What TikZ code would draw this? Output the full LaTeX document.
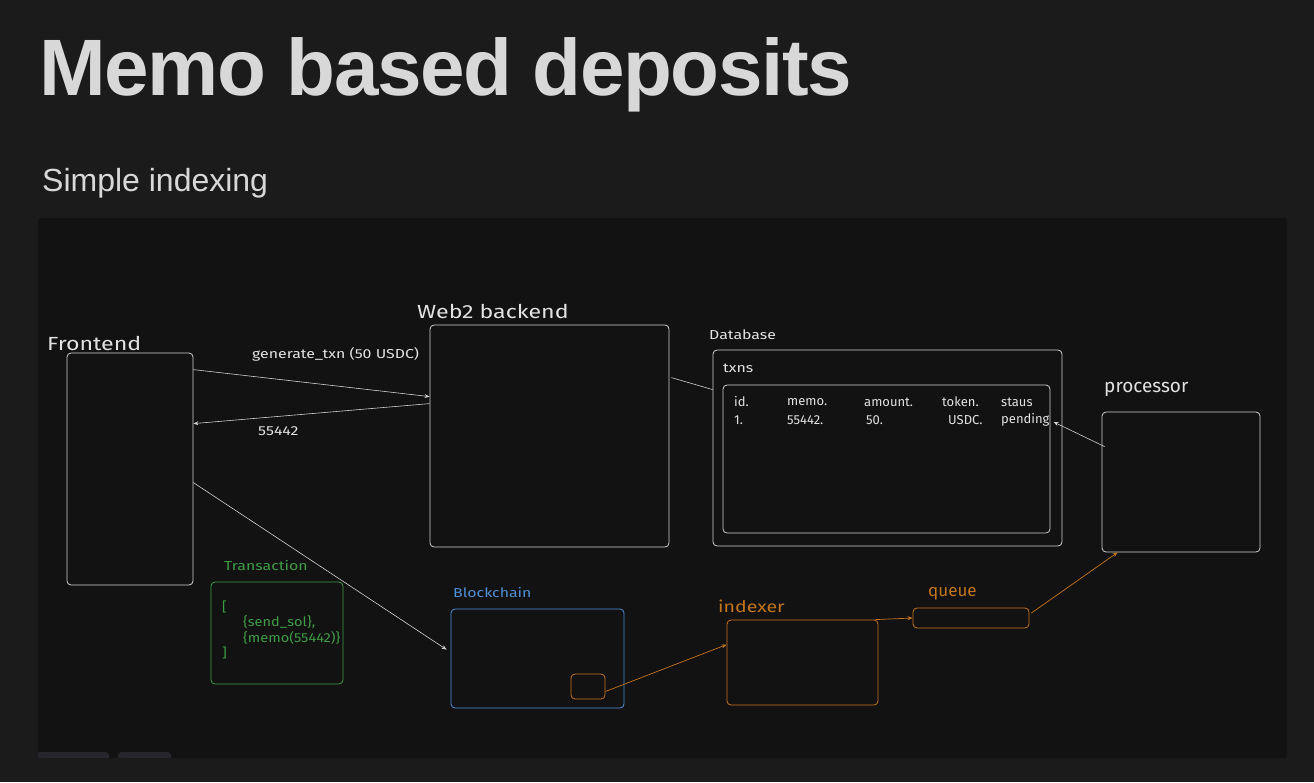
\documentclass[tikz,border=0pt]{standalone}
\usepackage{fontspec}
\setmainfont{Liberation Sans}
\newfontfamily\hand{Fira Sans}
\newfontfamily\handw[FakeStretch=1.22]{Fira Sans}
\newfontfamily\handm[FakeStretch=1.12]{Fira Sans}
\usetikzlibrary{arrows.meta}
\definecolor{pagebg}{HTML}{1B1B1B}
\definecolor{panelbg}{HTML}{121212}
\definecolor{tabbg}{HTML}{26262C}
\definecolor{wline}{HTML}{D0D0D0}
\definecolor{wtext}{HTML}{E2E2E2}
\definecolor{titlec}{HTML}{D8D8D8}
\definecolor{gline}{HTML}{3E9C45}
\definecolor{bline}{HTML}{4F8FD4}
\definecolor{oline}{HTML}{C2751B}
\tikzset{
  box/.style={draw=wline, line width=0.8pt, rounded corners=4pt, inner sep=0pt},
  gbox/.style={box, draw=gline},
  bbox/.style={box, draw=bline},
  obox/.style={box, draw=oline},
  conn/.style={wline, line width=0.6pt},
  arr/.style={conn, -{Stealth[length=5pt,width=4pt]}},
  oarr/.style={oline, line width=0.7pt, -{Stealth[length=5pt,width=4pt]}},
  big/.style={font=\handw\fontsize{19}{22}\selectfont, text=wtext, inner sep=0pt, anchor=west},
  small/.style={font=\handw\fontsize{13}{15}\selectfont, text=wtext, inner sep=0pt, anchor=west},
  gtext/.style={font=\handm\fontsize{13}{15}\selectfont, text=gline, inner sep=0pt, anchor=west},
  cell/.style={font=\hand\fontsize{13}{15}\selectfont, text=wtext, inner sep=0pt, anchor=west},
}
\begin{document}
\begin{tikzpicture}[x=1pt,y=-1pt]
\fill[pagebg] (0,0) rectangle (1314,782);
\useasboundingbox (0,0) rectangle (1314,782);
\fill[panelbg, rounded corners=3pt] (38,218) rectangle (1287,758);
\fill[tabbg, rounded corners=2pt] (38,758) -- (38,752) -- (108,752) -- (110,758) -- cycle;
\fill[tabbg, rounded corners=2pt] (117,758) -- (119,752) -- (170,752) -- (172,758) -- cycle;

\node[anchor=base west, inner sep=0pt, text=titlec, font=\bfseries\fontsize{80}{84}\selectfont\addfontfeatures{LetterSpace=-1.8}] (title) at (39,95) {Memo based deposits};
\node[anchor=base west, inner sep=0pt, text=titlec, font=\fontsize{32}{36}\selectfont] (sub) at (42,191) {Simple indexing};

% boxes
\node[box, minimum width=126pt, minimum height=232pt] (fe) at (130,469) {};
\node[box, minimum width=239pt, minimum height=222pt] (web) at (549.5,436) {};
\node[box, minimum width=349pt, minimum height=196pt] (db) at (887.5,448) {};
\node[box, minimum width=327pt, minimum height=148pt] (tbl) at (886.5,459) {};
\node[box, minimum width=158pt, minimum height=140pt] (proc) at (1181,482) {};
\node[gbox, minimum width=132pt, minimum height=102pt] (tx) at (277,633) {};
\node[bbox, minimum width=173pt, minimum height=99pt] (bc) at (537.5,658.5) {};
\node[obox, minimum width=34pt, minimum height=25pt] (tok) at (588,686.5) {};
\node[obox, minimum width=151pt, minimum height=85pt] (idx) at (802.5,662.5) {};
\node[obox, minimum width=116pt, minimum height=20pt] (q) at (971,618) {};

% labels
\node[big] (lfe) at (47,343) {Frontend};
\node[big] (lweb) at (417,311) {Web2 backend};
\node[big, font=\hand\fontsize{19}{22}\selectfont] (lproc) at (1104,389) {processor};
\node[small] (ldb) at (709,335) {Database};
\node[small] (ltx) at (723,368) {txns};
\node[small, text=gline] (ltr) at (224,565) {Transaction};
\node[small, text=bline] (lbc) at (453,592) {Blockchain};
\node[big, text=oline, font=\handw\fontsize{16}{18}\selectfont] (lidx) at (718,606) {indexer};
\node[big, text=oline, font=\hand\fontsize{17}{19}\selectfont] (lq) at (928,594) {queue};

% table
\node[cell] (h1) at (734,402) {id.};
\node[cell] (h2) at (787,402) {memo.};
\node[cell] (h3) at (864,402) {amount.};
\node[cell] (h4) at (942,402) {token.};
\node[cell] (h5) at (1001,402) {staus};
\node[cell] (r1) at (734,420) {1.};
\node[cell] (r2) at (787,420) {55442.};
\node[cell] (r3) at (866,420) {50.};
\node[cell] (r4) at (948,420) {USDC.};
\node[cell] (pend) at (1001,420) {pending};

% transaction content
\node[gtext] (t1) at (222,607) {[};
\node[gtext] (t2) at (243,622) {\{send\_sol\},};
\node[gtext] (t3) at (243,638) {\{memo(55442)\}};
\node[gtext] (t4) at (222,653) {]};

% connectors
\node[small] (lgen) at (252,354) {generate\_txn (50 USDC)};
\node[small] (l55) at (258,431) {55442};
\draw[arr] ([yshift=-17pt]fe.north east) -- ([yshift=-72pt]web.north west);
\draw[arr] ([yshift=-79pt]web.north west) -- ([yshift=-71pt]fe.north east);
\draw[arr] ([yshift=-130pt]fe.north east) -- ([xshift=-4pt,yshift=-41pt]bc.north west);
\draw[conn] ([yshift=-53pt,xshift=2pt]web.north east) -- ([yshift=-40pt]db.north west);
\draw[arr] ([yshift=-35pt,xshift=3pt]proc.north west) -- ([xshift=4pt,yshift=-2pt]pend.east);
\draw[oarr] ([yshift=-5pt]tok.east) -- ([yshift=-25pt]idx.north west);
\draw[oarr] ([xshift=-3pt]idx.north east) -- (q.west);
\draw[oarr] ([yshift=5pt,xshift=2pt]q.east) -- ([xshift=16pt]proc.south west);
\end{tikzpicture}
\end{document}
